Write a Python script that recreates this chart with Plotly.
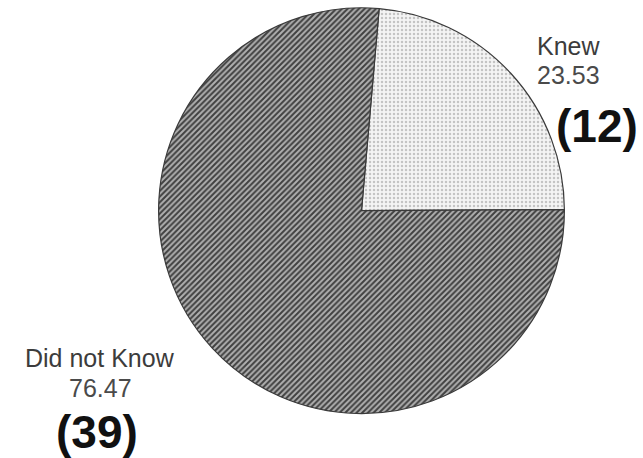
import plotly.graph_objects as go

categories = ["Knew", "Did not Know"]
percents = [23.53, 76.47]
counts = [12, 39]

fig = go.Figure()
fig.add_trace(go.Pie(
    labels=categories,
    values=percents,
    sort=False,
    direction="clockwise",
    rotation=5,
    textinfo="none",
    hoverinfo="label+value",
    showlegend=False,
    domain=dict(x=[0.2457, 0.8787], y=[0.097, 0.983]),
    marker=dict(
        colors=["#f4f4f4", "#a0a0a0"],
        line=dict(color="#3a3a3a", width=1.2),
        pattern=dict(
            shape=[".", "/"],
            fgcolor=["#c4c4c4", "#404040"],
            bgcolor=["#f4f4f4", "#b0b0b0"],
            size=[4, 4],
            solidity=[0.3, 0.5],
        ),
    ),
))

# label positions in pixels: (label x, label y, value y, count x, count y)
label_pos = {"Knew": (568, 46, 75, 597, 126), "Did not Know": (100, 358, 388, 97, 432)}
for cat, pct, cnt in zip(categories, percents, counts):
    x, yl, yv, xc, yc = label_pos[cat]
    fig.add_annotation(x=x / 643, y=1 - yl / 458, xref="paper", yref="paper",
                       text=cat, showarrow=False,
                       font=dict(family="Liberation Sans", size=25, color="#3c3c3c"),
                       xanchor="center", yanchor="middle")
    fig.add_annotation(x=x / 643, y=1 - yv / 458, xref="paper", yref="paper",
                       text=f"{pct:.2f}", showarrow=False,
                       font=dict(family="Liberation Sans", size=25, color="#4a4a4a"),
                       xanchor="center", yanchor="middle")
    fig.add_annotation(x=xc / 643, y=1 - yc / 458, xref="paper", yref="paper",
                       text=f"<b>({cnt})</b>", showarrow=False,
                       font=dict(family="Liberation Sans", size=46, color="#111"),
                       xanchor="center", yanchor="middle")

fig.update_layout(width=643, height=458, margin=dict(l=0, r=0, t=0, b=0),
                  paper_bgcolor="white", plot_bgcolor="white")
fig.write_html("out.html")
